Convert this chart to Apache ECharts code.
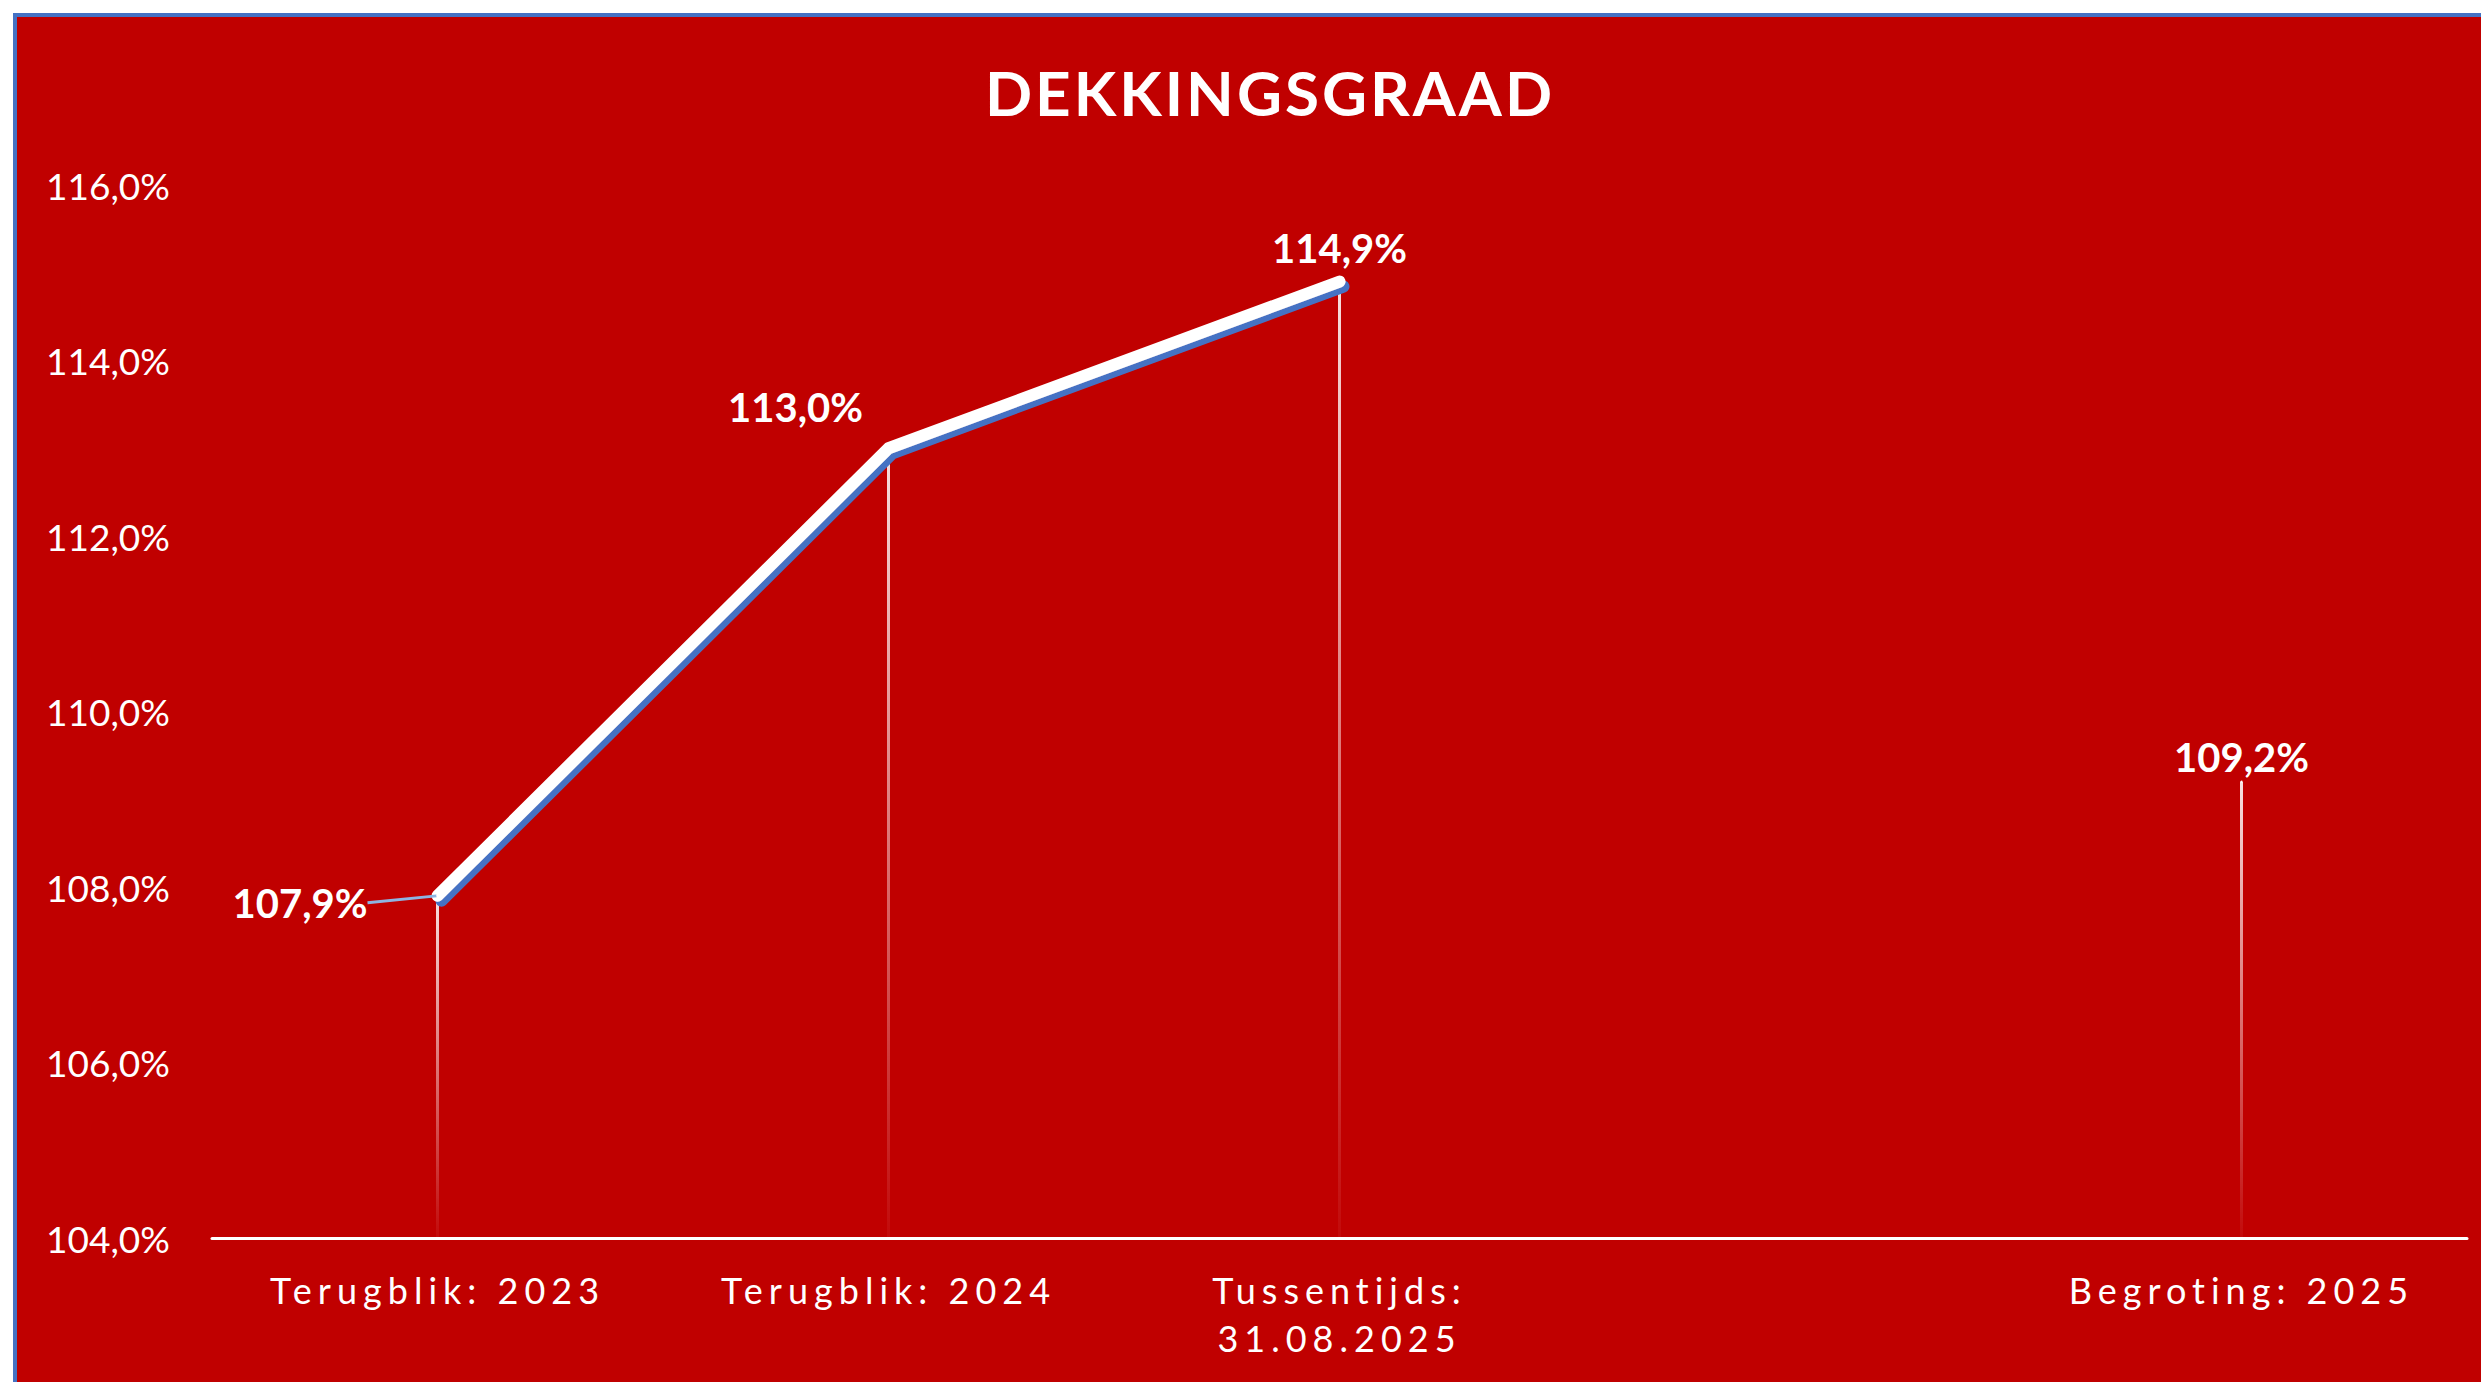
<!DOCTYPE html>
<html>
<head>
<meta charset="utf-8">
<title>Dekkingsgraad</title>
<script src="https://cdn.jsdelivr.net/npm/echarts@6/dist/echarts.min.js"></script>
<style>
  html, body { margin: 0; padding: 0; background: #fff; width: 2481px; height: 1382px; overflow: hidden; }
  #frame {
    position: absolute; left: 13px; top: 13px; right: 0; bottom: 0;
    background: #C00000;
    border-left: 4px solid #4472C4;
    border-top: 4px solid #4472C4;
  }
  #chart { position: absolute; left: 0; top: 0; width: 2481px; height: 1382px; }
  /* letter spacing for title and category labels (svg renderer) */
  #chart text[style*="62px"] { letter-spacing: 3px; }
  #chart text[style*="36px"] { letter-spacing: 6px; }
</style>
</head>
<body>
<div id="frame"></div>
<div id="chart"></div>
<script>
const categories = ['Terugblik: 2023', 'Terugblik: 2024', 'Tussentijds:\n31.08.2025', '', 'Begroting: 2025']
const ratios = [107.9, 113.0, 114.9, null, 109.2]

const yMin = 104
const yMax = 116
const yStep = 2

// label placement per point
const labelPlacement = [
    { position: 'left', distance: 8 },
    { position: 'top', distance: 20 },
    { position: 'top', distance: 13 },
    {},
    { position: 'top', distance: 4 }
]
const labelShift = [{ dx: -61, dy: 7 }, { dx: -93 }, null, null, null]

const fmt = (v) => Number(v).toFixed(1).replace('.', ',') + '%'

const chart = echarts.init(document.getElementById('chart'), null, { renderer: 'svg' })

const lineData = ratios.map((v, i) => ({
    value: v,
    label: labelPlacement[i],
    labelLine: { show: i === 0 }
}))

chart.setOption({
    backgroundColor: 'transparent',
    animation: false,
    title: {
        text: 'DEKKINGSGRAAD',
        left: 1265,
        top: 56,
        textAlign: 'center',
        textStyle: { color: '#fff', fontFamily: 'Lato', fontWeight: 'bold', fontSize: 62 }
    },
    grid: { left: 212, right: 14, top: 185, bottom: 144, outerBoundsMode: 'none' },
    xAxis: {
        type: 'category',
        data: categories,
        boundaryGap: true,
        axisLine: { lineStyle: { color: '#fff', width: 3 } },
        axisTick: { show: false },
        splitLine: { show: false },
        axisLabel: { interval: 0, color: '#fff', fontFamily: 'Lato', fontSize: 36, lineHeight: 48, margin: 28 }
    },
    yAxis: {
        type: 'value',
        min: yMin,
        max: yMax,
        interval: yStep,
        axisLine: { show: false },
        axisTick: { show: false },
        splitLine: { show: false },
        axisLabel: { color: '#fff', fontFamily: 'Lato', fontSize: 37, margin: 42, formatter: fmt }
    },
    series: [
        {
            // invisible base so the drop lines start at the axis
            type: 'bar',
            stack: 'drop',
            data: ratios.map(v => v == null ? null : yMin),
            barWidth: 3,
            silent: true,
            itemStyle: { color: 'rgba(0,0,0,0)' },
            z: 1
        },
        {
            type: 'bar',
            stack: 'drop',
            data: ratios.map(v => v == null ? null : v - yMin),
            barWidth: 3,
            silent: true,
            itemStyle: {
                color: new echarts.graphic.LinearGradient(0, 0, 0, 1, [
                    { offset: 0, color: 'rgba(255,255,255,0.88)' },
                    { offset: 1, color: 'rgba(255,255,255,0.04)' }
                ])
            },
            z: 1
        },
        {
            type: 'line',
            data: lineData,
            z: 3,
            symbol: 'circle',
            symbolSize: 2,
            itemStyle: { color: '#fff' },
            lineStyle: {
                color: '#fff', width: 12, cap: 'round', join: 'round',
                shadowColor: '#4472C4', shadowOffsetX: 4, shadowOffsetY: 5, shadowBlur: 0
            },
            label: {
                show: true,
                color: '#fff',
                fontFamily: 'Lato',
                fontWeight: 'bold',
                fontSize: 40,
                formatter: (p) => fmt(p.value)
            },
            labelLine: { show: false, lineStyle: { color: '#8DB4E2', width: 3 } },
            labelLayout: (p) => labelShift[p.dataIndex] || undefined
        }
    ]
})
</script>
</body>
</html>
